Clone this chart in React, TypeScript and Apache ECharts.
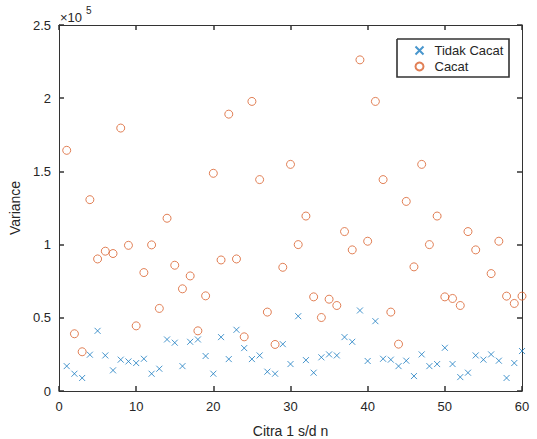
import React, { useEffect, useRef } from "react";
import * as echarts from "echarts";

const citra = [
  1, 2, 3, 4, 5, 6, 7, 8, 9, 10, 11, 12, 13, 14, 15, 16, 17, 18, 19, 20,
  21, 22, 23, 24, 25, 26, 27, 28, 29, 30, 31, 32, 33, 34, 35, 36, 37, 38, 39, 40,
  41, 42, 43, 44, 45, 46, 47, 48, 49, 50, 51, 52, 53, 54, 55, 56, 57, 58, 59, 60,
];

const tidakCacat = [
  17000, 11800, 8900, 24800, 41100, 24300, 14100, 21400, 20200, 19100,
  22000, 11800, 15200, 35200, 33000, 17000, 33600, 35200, 23900, 11800,
  36800, 21800, 41800, 29300, 21800, 24300, 13200, 11800, 32000, 18400,
  51100, 21100, 12500, 23000, 25000, 24300, 36800, 33600, 55000, 20500,
  47700, 22000, 21400, 17000, 20700, 10200, 25000, 17000, 18400, 29500,
  18400, 9500, 12500, 24300, 21400, 25000, 20700, 8900, 19100, 27300,
];

const cacat: (number | null)[] = [
  164400, 39100, 26800, 130700, 90200, 95500, 93900, 179600, 99500, 44500,
  80900, 99800, 56400, 118000, 85900, 69800, 78600, 41100, 65000, 148700,
  89500, 189100, 90200, 37000, 197800, 144400, 53900, 31800, 84500, 154800,
  100000, 119500, 64300, 50200, 62700, 58400, 108900, 96400, 226200, 102300,
  197800, 144400, 53900, 32000, 129500, 84800, 154800, 100000, 119500, 64300,
  63200, 58400, 108900, 96400, null, 80200, 102300, 64800, 59800, 64800,
];

const xTicks = [0, 10, 20, 30, 40, 50, 60];
const yTickLabels = ["0", "0.5", "1", "1.5", "2", "2.5"];

const BLUE = "#1a7cc0";
const ORANGE = "#d9602c";
const AXIS = "#333333";
const FONT = "'Liberation Sans', Arial, sans-serif";

export default function App() {
  const ref = useRef<HTMLDivElement>(null);
  useEffect(() => {
    if (!ref.current) return;
    const chart = echarts.init(ref.current, null, { renderer: "svg" });
    const blueData = citra.map((x, i) => [x, tidakCacat[i]]);
    const orangeData = citra
      .map((x, i) => [x, cacat[i]])
      .filter((d) => d[1] !== null);
    const axisLine = { show: true, onZero: false, lineStyle: { color: AXIS, width: 1 } };
    const axisTick = {
      show: true,
      inside: true,
      length: 5,
      interval: 0,
      lineStyle: { color: AXIS, width: 1.5, opacity: 1 },
    };
    chart.setOption({
      animation: false,
      backgroundColor: "#ffffff",
      textStyle: { fontFamily: FONT },
      grid: {
        left: 59,
        top: 25,
        width: 463,
        height: 366,
        containLabel: false,
        outerBoundsMode: "none",
      },
      xAxis: [
        {
          type: "value",
          min: 0,
          max: 60,
          interval: 10,
          position: "bottom",
          axisLine,
          axisTick,
          splitLine: { show: false },
          axisLabel: {
            color: "#262626",
            fontSize: 13,
            margin: 9,
            fontFamily: FONT,
            formatter: (v: number) => (xTicks.includes(v) ? String(v) : ""),
          },
          name: "Citra 1 s/d n",
          nameLocation: "middle",
          nameGap: 33,
          nameTextStyle: { color: "#262626", fontSize: 14, fontFamily: FONT },
        },
        {
          type: "value",
          min: 0,
          max: 60,
          interval: 10,
          position: "top",
          axisLine,
          axisTick,
          splitLine: { show: false },
          axisLabel: { show: false },
        },
      ],
      yAxis: [
        {
          type: "value",
          min: 0,
          max: 250000,
          interval: 50000,
          position: "left",
          axisLine,
          axisTick,
          splitLine: { show: false },
          axisLabel: {
            color: "#262626",
            fontSize: 13,
            margin: 8,
            fontFamily: FONT,
            formatter: (v: number) => yTickLabels[Math.round(v / 50000)] ?? "",
          },
          name: "Variance",
          nameLocation: "middle",
          nameGap: 28,
          nameTextStyle: { color: "#262626", fontSize: 14, fontFamily: FONT },
        },
        {
          type: "value",
          min: 0,
          max: 250000,
          interval: 50000,
          position: "right",
          axisLine,
          axisTick,
          splitLine: { show: false },
          axisLabel: { show: false },
        },
      ],
      legend: {
        orient: "vertical",
        left: 397,
        top: 39,
        z: 5,
        padding: [5, 6, 4, 16],
        itemWidth: 16,
        itemHeight: 8,
        itemGap: 3,
        textStyle: { color: "#262626", fontSize: 13, fontFamily: FONT, padding: [0, 0, 0, 2] },
        data: ["Tidak Cacat", "Cacat"],
      },
      series: [
        {
          name: "Tidak Cacat",
          type: "scatter",
          xAxisIndex: 0,
          yAxisIndex: 0,
          symbol: "path://M0,0L10,10M10,0L0,10",
          symbolSize: 6,
          itemStyle: { color: "none", borderColor: BLUE, borderWidth: 1 },
          data: blueData,
        },
        {
          name: "Cacat",
          type: "scatter",
          xAxisIndex: 0,
          yAxisIndex: 0,
          symbol: "circle",
          symbolSize: 8,
          itemStyle: { color: "none", borderColor: ORANGE, borderWidth: 1 },
          data: orangeData,
        },
      ],
      graphic: [
        {
          type: "polyline",
          z: 4,
          shape: {
            points: [
              [397, 39],
              [509, 39],
              [509, 77],
              [397, 77],
              [397, 39],
            ],
          },
          style: { fill: null, stroke: "#333333", lineWidth: 1.6 },
        },
        {
          type: "text",
          left: 60,
          top: 11,
          style: { text: "×10", fontSize: 13, fill: "#262626", fontFamily: FONT },
        },
        {
          type: "text",
          left: 86,
          top: 5,
          style: { text: "5", fontSize: 10, fill: "#262626", fontFamily: FONT },
        },
      ],
    });
    return () => chart.dispose();
  }, []);
  return (
    <div
      ref={ref}
      style={{ position: "fixed", left: 0, top: 0, width: 537, height: 439 }}
    />
  );
}
